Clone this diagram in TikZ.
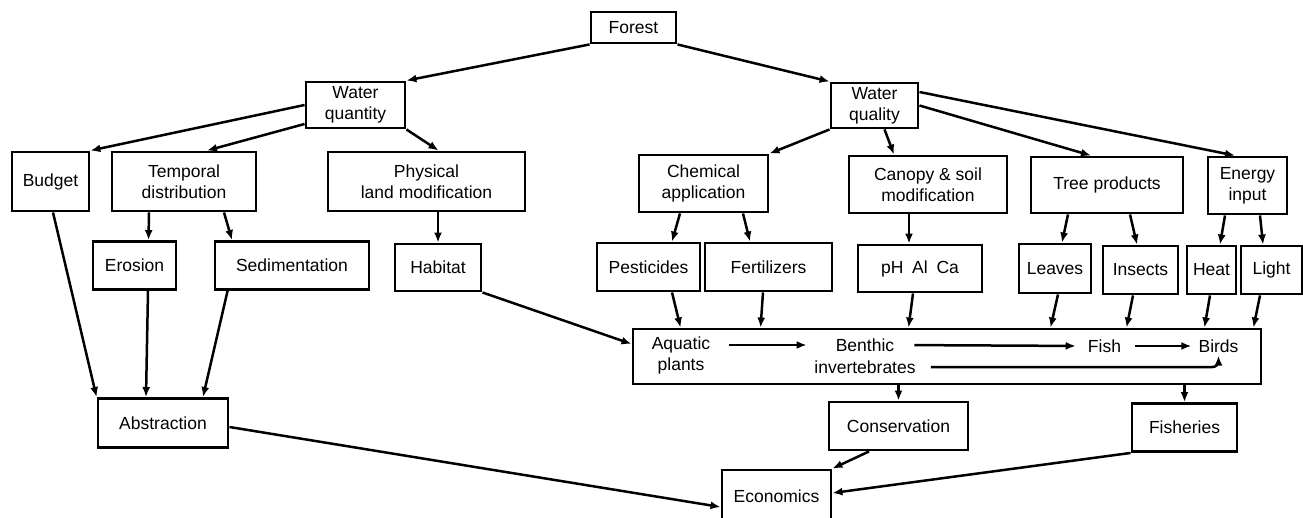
\documentclass[tikz,border=0pt]{standalone}
\usepackage{fontspec}
\setmainfont{Liberation Sans}
\usetikzlibrary{arrows.meta}
\tikzset{
every picture/.style={
line width=2.5pt
}}

\begin{document}
\begin{tikzpicture}[x=1pt, y=-1pt,
box/.style = {rectangle, draw=black, line width=2.9pt, align=center, inner sep=0pt},
lbl/.style = {inner sep=2pt, align=center},
arr/.style = {-{Latex[length=10pt,width=8pt]}},
font=\fontsize{17.5}{21}\selectfont]

\useasboundingbox (0,0) rectangle (1303,518);

% top levels
\node[box, minimum width=85pt, minimum height=31pt] (forest) at (633.5,27.5) {Forest};
\node[box, minimum width=99pt, minimum height=46pt] (wqn) at (355.5,105) {Water\\quantity};
\node[box, minimum width=87pt, minimum height=45pt] (wql) at (874.5,105.5) {Water\\quality};

% second row
\node[box, minimum width=77pt, minimum height=59pt] (budget) at (50.5,181.5) {Budget};
\node[box, minimum width=144pt, minimum height=59pt] (temporal) at (184,181.5) {Temporal\\distribution};
\node[box, minimum width=197pt, minimum height=59pt] (physical) at (426.5,181.5) {Physical\\land modification};
\node[box, minimum width=129pt, minimum height=57pt] (chemical) at (703.5,183.5) {Chemical\\application};
\node[box, minimum width=158pt, minimum height=57pt] (canopy) at (928,184.5) {Canopy \& soil\\modification};
\node[box, minimum width=152pt, minimum height=56pt] (tree) at (1107,185) {Tree products};
\node[box, minimum width=79pt, minimum height=57pt] (energy) at (1247.5,185.5) {Energy\\input};

% third row
\node[box, minimum width=83pt, minimum height=48pt] (erosion) at (134.5,265.5) {Erosion};
\node[box, minimum width=154pt, minimum height=48pt] (sediment) at (292,265.5) {Sedimentation};
\node[box, minimum width=86pt, minimum height=47pt] (habitat) at (438,267.5) {Habitat};
\node[box, minimum width=103pt, minimum height=48pt] (pesticides) at (648.5,267) {Pesticides};
\node[box, minimum width=127pt, minimum height=48pt] (fertilizers) at (768.5,267) {Fertilizers};
\node[box, minimum width=124pt, minimum height=47pt] (phalca) at (920,268.5) {pH\enspace Al\enspace Ca};
\node[box, minimum width=72pt, minimum height=49pt] (leaves) at (1055,268.5) {Leaves};
\node[box, minimum width=75pt, minimum height=48pt] (insects) at (1140.5,270) {Insects};
\node[box, minimum width=49pt, minimum height=48pt] (heat) at (1211.5,270) {Heat};
\node[box, minimum width=61pt, minimum height=48pt] (light) at (1271.5,270) {Light};

% food chain box
\node[box, minimum width=628pt, minimum height=55pt] (biota) at (947,356.5) {};
\node[lbl] (aquatic) at (681,355) {Aquatic\\plants};
\node[lbl] (benthic) at (865,345) {Benthic};
\node[lbl] (invert) at (865,367) {invertebrates};
\node[lbl] (fish) at (1104.5,346) {Fish};
\node[lbl] (birds) at (1218.5,346) {Birds};

% bottom
\node[box, minimum width=130pt, minimum height=49pt] (abstraction) at (163,423) {Abstraction};
\node[box, minimum width=139pt, minimum height=48pt] (conservation) at (898.5,426) {Conservation};
\node[box, minimum width=105pt, minimum height=48pt] (fisheries) at (1184.5,427.5) {Fisheries};
\node[box, minimum width=109pt, minimum height=52pt] (economics) at (776.5,496) {Economics};

\draw[arr] (forest.south west) -- (wqn.north east);
\draw[arr] (forest.south east) -- (wql.north west);
\draw[arr] (wqn.west) -- (budget.north east);
\draw[arr] ([yshift=-19pt]wqn.west) -- ([xshift=23pt]temporal.north);
\draw[arr] (wqn.south east) -- ([xshift=12pt]physical.north);
\draw[arr] (wql.south west) -- (chemical.north east);
\draw[arr] ([xshift=10pt]wql.south) -- ([xshift=-34pt]canopy.north);
\draw[arr] (wql.east) -- ([xshift=-16pt]tree.north);
\draw[arr] ([yshift=13.5pt]wql.east) -- ([xshift=-12.5pt]energy.north);

\draw[arr] ([xshift=-35pt]temporal.south) -- ([xshift=14pt]erosion.north);
\draw[arr] ([xshift=40pt]temporal.south) -- ([xshift=-60pt]sediment.north);
\draw[arr] (habitat.north |- physical.south) -- (habitat.north);
\draw[arr] ([xshift=-23.5pt]chemical.south) -- ([xshift=23.5pt]pesticides.north);
\draw[arr] ([xshift=39.5pt]chemical.south) -- ([xshift=-18.5pt]fertilizers.north);
\draw[arr] ([xshift=-19pt]canopy.south) -- ([xshift=-11pt]phalca.north);
\draw[arr] ([xshift=-39pt]tree.south) -- ([xshift=7pt]leaves.north);
\draw[arr] ([xshift=23pt]tree.south) -- ([xshift=-3.5pt]insects.north);
\draw[arr] ([xshift=-22.5pt]energy.south) -- ([xshift=8.5pt]heat.north);
\draw[arr] ([xshift=12.5pt]energy.south) -- ([xshift=-8.5pt]light.north);

\draw[arr] ([xshift=2.5pt]budget.south) -- (abstraction.north west);
\draw[arr] ([xshift=13.5pt]erosion.south) -- ([xshift=-17pt]abstraction.north);
\draw[arr] ([xshift=14pt]sediment.south west) -- ([xshift=40pt]abstraction.north);
\draw[arr] (habitat.south east) -- ([yshift=12.5pt]biota.west);
\draw[arr] ([xshift=23.5pt]pesticides.south) -- ([xshift=49pt]biota.north west);
\draw[arr] ([xshift=-5.5pt]fertilizers.south) -- ([xshift=129pt]biota.north west);
\draw[arr] ([xshift=-7pt]phalca.south) -- ([xshift=277pt]biota.north west);
\draw[arr] ([xshift=3pt]leaves.south) -- ([xshift=419pt]biota.north west);
\draw[arr] ([xshift=-7.5pt]insects.south) -- ([xshift=495pt]biota.north west);
\draw[arr] ([xshift=-1.5pt]heat.south) -- ([xshift=-58pt]biota.north east);
\draw[arr] ([xshift=-11.5pt]light.south) -- ([xshift=-9pt]biota.north east);

% inside the box
\draw[arr, shorten <=16pt, shorten >=26pt] (aquatic.east |- benthic.west) -- (benthic.west);
\draw[arr, shorten <=17pt, shorten >=9pt] (benthic.east) -- (fish.west);
\draw[arr, shorten <=11pt, shorten >=4pt] (fish.east) -- (birds.west);
\draw[arr, rounded corners=6pt, shorten <=12pt] (invert.east) -| (birds.south);

\draw[arr] (conservation.north |- biota.south) -- (conservation.north);
\draw[arr] (fisheries.north |- biota.south) -- (fisheries.north);
\draw[arr] ([xshift=-29.5pt]conservation.south) -- (economics.north east);
\draw[arr] (fisheries.south west) -- ([yshift=3pt]economics.east);
\draw[arr] ([yshift=-4pt]abstraction.east) -- ([yshift=-11pt]economics.west);
\end{tikzpicture}
\end{document}
